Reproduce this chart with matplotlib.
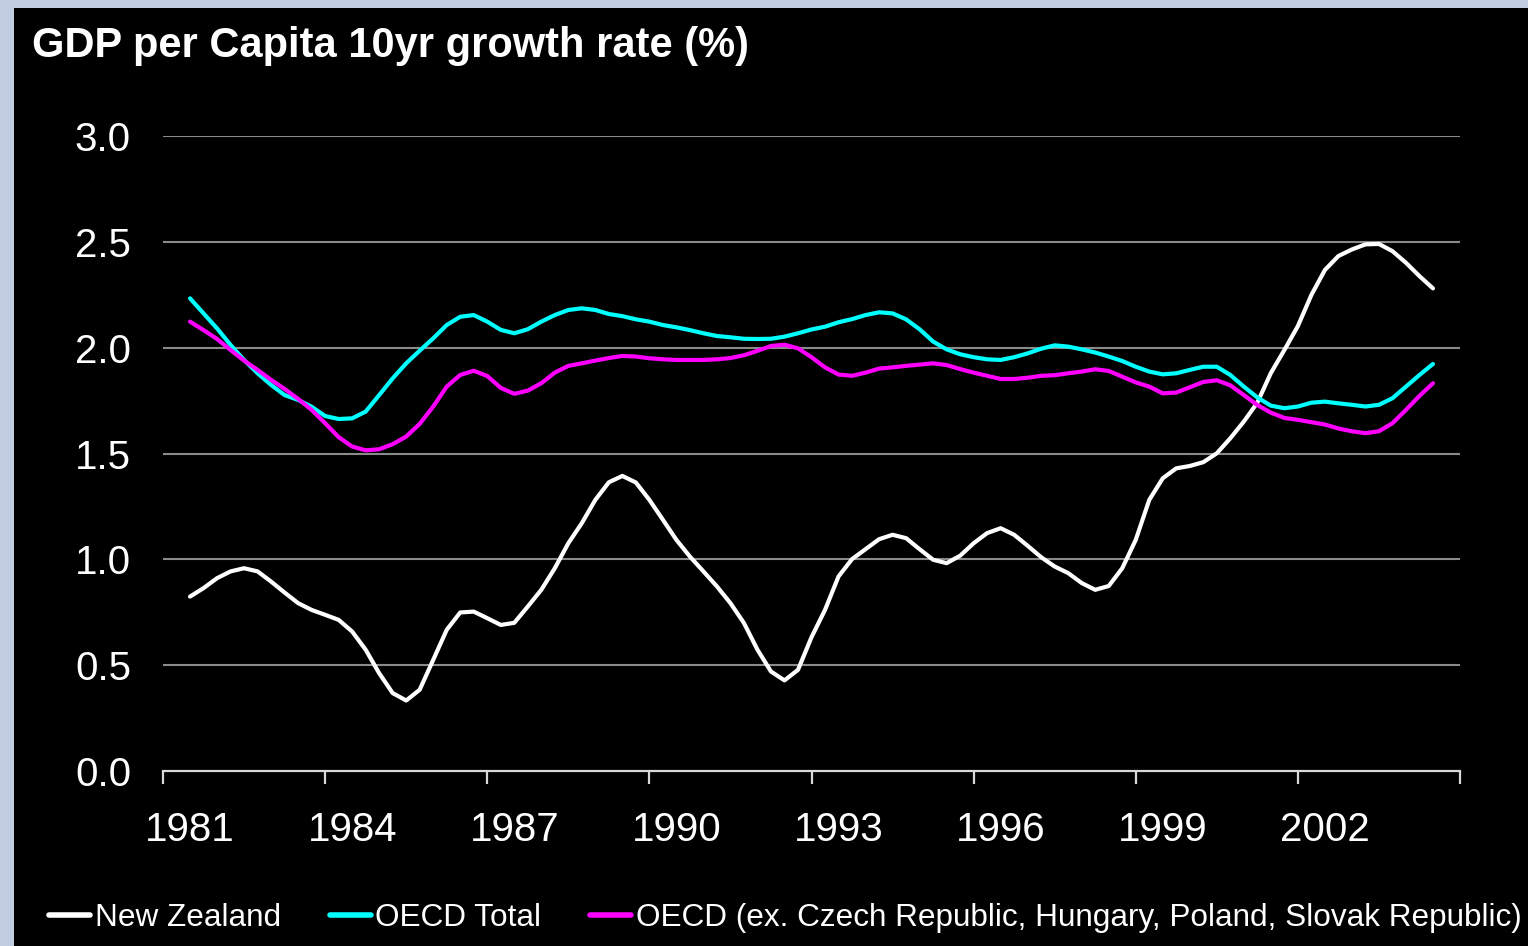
import numpy as np
import matplotlib
matplotlib.use("Agg")
import matplotlib.pyplot as plt
from matplotlib.patches import Rectangle

# ---- data (quarterly readings, 1981.00 .. 2004.00) ----
years = [1981 + 0.25 * i for i in range(93)]

new_zealand = [
    0.824, 0.864, 0.911, 0.943, 0.958, 0.943, 0.895, 0.843,
    0.793, 0.761, 0.738, 0.714, 0.659, 0.573, 0.462, 0.368,
    0.333, 0.384, 0.525, 0.667, 0.749, 0.753, 0.722, 0.690,
    0.700, 0.777, 0.856, 0.958, 1.076, 1.171, 1.281, 1.364,
    1.394, 1.363, 1.281, 1.187, 1.092, 1.013, 0.943, 0.872,
    0.793, 0.699, 0.573, 0.470, 0.428, 0.478, 0.632, 0.761,
    0.919, 1.001, 1.048, 1.095, 1.116, 1.100, 1.048, 0.998,
    0.982, 1.017, 1.076, 1.124, 1.147, 1.116, 1.064, 1.010,
    0.966, 0.935, 0.888, 0.856, 0.874, 0.958, 1.092, 1.281,
    1.383, 1.430, 1.441, 1.459, 1.501, 1.572, 1.651, 1.740,
    1.880, 1.989, 2.102, 2.249, 2.367, 2.433, 2.464, 2.488,
    2.490, 2.456, 2.401, 2.338, 2.280,
]

oecd_total = [
    2.233, 2.162, 2.091, 2.013, 1.942, 1.879, 1.824, 1.776,
    1.753, 1.721, 1.677, 1.663, 1.666, 1.698, 1.776, 1.855,
    1.926, 1.986, 2.044, 2.107, 2.146, 2.154, 2.123, 2.084,
    2.068, 2.087, 2.123, 2.154, 2.178, 2.186, 2.178, 2.159,
    2.149, 2.134, 2.123, 2.107, 2.096, 2.083, 2.068, 2.055,
    2.049, 2.042, 2.041, 2.042, 2.052, 2.068, 2.086, 2.099,
    2.120, 2.135, 2.154, 2.167, 2.162, 2.134, 2.087, 2.029,
    1.992, 1.969, 1.955, 1.945, 1.942, 1.955, 1.973, 1.995,
    2.011, 2.005, 1.992, 1.977, 1.958, 1.937, 1.910, 1.887,
    1.874, 1.879, 1.895, 1.910, 1.910, 1.871, 1.816, 1.765,
    1.726, 1.714, 1.722, 1.740, 1.745, 1.737, 1.730, 1.722,
    1.730, 1.761, 1.816, 1.871, 1.923,
]

oecd_ex = [
    2.123, 2.083, 2.041, 1.989, 1.939, 1.895, 1.848, 1.805,
    1.758, 1.706, 1.643, 1.577, 1.533, 1.515, 1.520, 1.544,
    1.580, 1.640, 1.722, 1.816, 1.871, 1.891, 1.866, 1.810,
    1.782, 1.797, 1.832, 1.882, 1.914, 1.926, 1.939, 1.951,
    1.961, 1.958, 1.950, 1.945, 1.942, 1.942, 1.942, 1.945,
    1.951, 1.964, 1.985, 2.008, 2.014, 1.997, 1.955, 1.907,
    1.873, 1.867, 1.882, 1.901, 1.907, 1.914, 1.920, 1.926,
    1.918, 1.899, 1.882, 1.867, 1.852, 1.852, 1.858, 1.867,
    1.870, 1.879, 1.887, 1.898, 1.890, 1.863, 1.836, 1.816,
    1.784, 1.788, 1.813, 1.838, 1.846, 1.822, 1.776, 1.729,
    1.693, 1.668, 1.659, 1.648, 1.637, 1.618, 1.605, 1.596,
    1.605, 1.643, 1.706, 1.772, 1.832,
]

series_names = ["New Zealand", "OECD Total",
                "OECD (ex. Czech Republic, Hungary, Poland, Slovak Republic)"]
series_colors = ["#ffffff", "#00ffff", "#ff00ff"]
x_labels = ["1981", "1984", "1987", "1990", "1993", "1996", "1999", "2002"]
y_ticks = [0.0, 0.5, 1.0, 1.5, 2.0, 2.5, 3.0]
title = "GDP per Capita 10yr growth rate (%)"

# ---- figure ----
W, H = 1528, 946
fig = plt.figure(figsize=(W / 100, H / 100), dpi=100)
fig.patch.set_facecolor("black")
# light slide border (top and left)
fig.patches.append(Rectangle((0, 1 - 8 / H), 1, 8 / H, transform=fig.transFigure,
                             facecolor="#c2cce0", edgecolor="none", zorder=-5))
fig.patches.append(Rectangle((0, 0), 14 / W, 1, transform=fig.transFigure,
                             facecolor="#c2cce0", edgecolor="none", zorder=-5))

FONT = "Liberation Sans"
ax = fig.add_axes([163 / W, 1 - 771 / H, (1460 - 163) / W, (771 - 136) / H])
ax.set_facecolor("black")

for vals, name, col in zip([new_zealand, oecd_total, oecd_ex], series_names, series_colors):
    ax.plot(years, vals, color=col, lw=3.0, label=name, solid_capstyle="round",
            solid_joinstyle="round", zorder=3)

ax.set_xlim(1980.5, 2004.5)
ax.set_ylim(0, 3.0)

for y in y_ticks[1:]:
    ax.axhline(y, color="#8a8a8a", lw=1.5, zorder=1)

for s in ["top", "right", "left"]:
    ax.spines[s].set_visible(False)
ax.spines["bottom"].set_color("#d8d8d8")
ax.spines["bottom"].set_linewidth(1.6)

ax.set_yticks(y_ticks)
ax.set_yticklabels([f"{v:.1f}" for v in y_ticks], fontsize=29, color="white", family=FONT)
ax.tick_params(axis="y", length=0, pad=23)

ax.set_xticks(np.arange(1980.5, 2004.6, 3))
ax.set_xticklabels([])
ax.tick_params(axis="x", which="major", length=9, width=1.6, color="#d8d8d8", direction="out")
ax.set_xticks([int(s) for s in x_labels], minor=True)
ax.set_xticklabels(x_labels, minor=True, fontsize=29, color="white", family=FONT)
ax.tick_params(axis="x", which="minor", length=0, pad=29)

fig.text(32 / W, 1 - 46 / H, title, color="white", fontsize=30, fontweight="bold",
         family=FONT, va="center", ha="left")

leg = fig.legend(loc="center left", bbox_to_anchor=(49 / W, 1 - 918 / H), ncol=3,
                 frameon=False, prop={"family": FONT, "size": 22.7},
                 handlelength=1.3, handletextpad=0.15, columnspacing=1.55,
                 borderaxespad=0, borderpad=0)
for t in leg.get_texts():
    t.set_color("white")
for l in leg.get_lines():
    l.set_linewidth(4)

fig.savefig("out.png", dpi=100, facecolor=fig.get_facecolor())
